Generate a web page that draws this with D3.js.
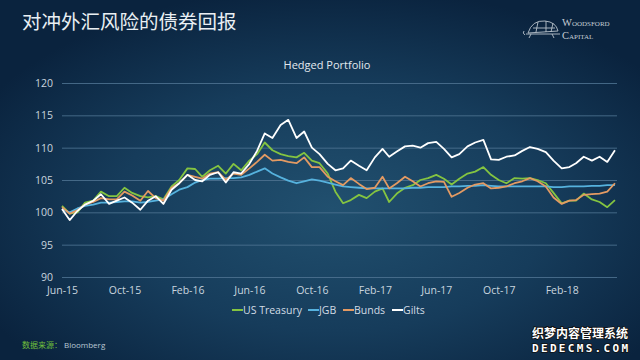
<!DOCTYPE html>
<html>
<head>
<meta charset="utf-8">
<script src="https://cdn.jsdelivr.net/npm/d3@7"></script>
<style>
  html, body { margin: 0; padding: 0; background: #0c2744; }
  svg { display: block; }
</style>
</head>
<body>
<svg id="chart" width="640" height="360"></svg>
<script>
// ---------------- DATA ----------------
const dates = [
  "2015-06-01","2015-06-16","2015-07-01","2015-07-16","2015-08-01","2015-08-16","2015-09-01","2015-09-16",
  "2015-10-01","2015-10-16","2015-11-01","2015-11-16","2015-12-01","2015-12-16","2016-01-01","2016-01-16",
  "2016-02-01","2016-02-16","2016-03-01","2016-03-16","2016-04-01","2016-04-16","2016-05-01","2016-05-16",
  "2016-06-01","2016-06-16","2016-07-01","2016-07-16","2016-08-01","2016-08-16","2016-09-01","2016-09-16",
  "2016-10-01","2016-10-16","2016-11-01","2016-11-16","2016-12-01","2016-12-16","2017-01-01","2017-01-16",
  "2017-02-01","2017-02-16","2017-03-01","2017-03-16","2017-04-01","2017-04-16","2017-05-01","2017-05-16",
  "2017-06-01","2017-06-16","2017-07-01","2017-07-16","2017-08-01","2017-08-16","2017-09-01","2017-09-16",
  "2017-10-01","2017-10-16","2017-11-01","2017-11-16","2017-12-01","2017-12-16","2018-01-01","2018-01-16",
  "2018-02-01","2018-02-16","2018-03-01","2018-03-16","2018-04-01","2018-04-16","2018-05-01","2018-05-16"
];
const usTreasury = [
  101.0, 99.8,100.0,101.5,101.8,103.2,102.5,102.5,103.8,103.0,102.5,102.3,102.5,102.0,104.0,105.0,
  106.8,106.7,105.5,106.5,107.2,106.0,107.5,106.5,108.0,109.0,110.8,109.6,109.0,108.7,108.5,109.2,
  108.0,107.6,106.0,103.2,101.4,101.9,102.7,102.2,103.2,103.7,101.6,102.9,103.8,104.2,105.0,105.3,
  105.8,105.2,104.3,105.2,106.0,106.3,107.0,105.8,105.0,104.5,105.3,105.2,105.3,105.0,104.5,103.0,
  101.4,101.8,101.8,102.9,102.0,101.6,100.8,101.9
];
const jgb = [
  100.5,100.0,100.6,101.0,101.2,101.5,101.5,101.6,101.7,101.7,101.5,101.6,101.8,102.0,102.8,103.5,
  103.9,104.6,105.0,105.2,105.2,105.3,105.3,105.4,105.8,106.3,106.8,106.0,105.4,104.9,104.5,104.8,
  105.1,104.9,104.6,104.3,104.0,103.9,103.8,103.7,103.7,103.7,103.7,103.7,103.7,103.8,103.8,103.9,
  103.9,103.9,104.0,104.0,104.1,104.1,104.2,104.1,104.0,104.0,104.0,104.0,104.0,104.0,104.0,103.9,
  103.9,104.0,104.0,104.0,104.1,104.1,104.2,104.2
];
const bunds = [
  100.8, 99.8,100.3,101.2,101.6,102.2,102.0,102.0,103.2,102.6,101.8,103.3,102.2,101.8,103.8,104.5,
  105.8,105.5,105.2,106.0,106.2,105.0,106.0,105.8,106.8,107.8,108.9,108.0,108.1,107.8,107.6,108.5,
  107.0,107.0,105.5,104.8,104.2,105.3,104.4,103.6,103.8,105.5,103.7,104.5,105.5,104.8,104.0,104.5,
  104.8,104.7,102.4,103.0,103.8,104.3,104.5,103.7,103.8,104.0,104.5,104.8,105.3,104.8,104.0,102.3,
  101.3,101.8,101.9,102.7,102.8,102.9,103.2,104.5
];
const gilts = [
  100.5, 98.8,100.2,101.2,101.8,102.8,101.3,101.8,102.3,101.5,100.4,101.8,102.5,101.3,103.5,104.5,
  105.8,105.0,104.8,105.8,106.2,104.6,106.2,106.0,107.5,109.5,112.2,111.5,113.5,114.3,111.5,112.5,
  110.0,109.0,107.5,106.5,106.8,108.0,107.2,106.5,108.5,109.8,108.6,109.4,110.2,110.3,110.0,110.7,
  110.9,109.8,108.5,109.0,110.2,110.8,111.2,108.2,108.1,108.6,108.8,109.5,110.1,109.8,109.3,108.0,
  106.8,107.0,107.6,108.6,108.0,108.6,107.8,109.6
];
const seriesNames = ["US Treasury", "JGB", "Bunds", "Gilts"];
const seriesColors = ["#84c441", "#56b2de", "#e39a63", "#ffffff"];
const yTicks = [90, 95, 100, 105, 110, 115, 120];
const xTickDates = ["2015-06-01","2015-10-01","2016-02-01","2016-06-01","2016-10-01","2017-02-01","2017-06-01","2017-10-01","2018-02-01"];
const titleText = "对冲外汇风险的债券回报";
const chartTitle = "Hedged Portfolio";
const sourceLabel = "数据来源：";
const sourceName = "Bloomberg";

// ---------------- DRAW ----------------
const svg = d3.select("#chart");
const W = 640, H = 360;
const parse = d3.timeParse("%Y-%m-%d");
const fmt = d3.timeFormat("%b-%y");

const defs = svg.append("defs");
const grad = defs.append("radialGradient").attr("id", "bg")
  .attr("cx", "52%").attr("cy", "58%").attr("r", "62%");
grad.append("stop").attr("offset", "0%").attr("stop-color", "#21506f");
grad.append("stop").attr("offset", "55%").attr("stop-color", "#163c5b");
grad.append("stop").attr("offset", "100%").attr("stop-color", "#0a233e");
svg.append("rect").attr("width", W).attr("height", H).attr("fill", "url(#bg)");

// scales
const x = d3.scaleTime()
  .domain([parse("2015-06-01"), parse("2018-05-20")])
  .range([62, 617]);
const y = d3.scaleLinear().domain([90, 120]).range([277, 83]);

// grid
const grid = svg.append("g")
  .attr("class", "grid")
  .call(d3.axisLeft(y).tickValues(yTicks).tickSize(-(617 - 62)).tickFormat(""))
  .attr("transform", "translate(62,0)");
grid.select(".domain").remove();
grid.selectAll("line").attr("stroke", "#4d7290").attr("stroke-width", 1).attr("opacity", 0.85);

// y axis labels
const yAxis = svg.append("g")
  .attr("transform", "translate(53,0)")
  .call(d3.axisLeft(y).tickValues(yTicks).tickSize(0).tickPadding(0));
yAxis.select(".domain").remove();
yAxis.selectAll("text")
  .attr("fill", "#c9d5df")
  .style("font-family", "'Open Sans', sans-serif")
  .style("font-size", "10.5px");

// x axis labels
const xAxis = svg.append("g")
  .attr("transform", "translate(0,287)")
  .call(d3.axisBottom(x).tickValues(xTickDates.map(parse)).tickFormat(fmt).tickSize(0).tickPadding(0));
xAxis.select(".domain").remove();
xAxis.selectAll("text")
  .attr("fill", "#c9d5df")
  .style("font-family", "'Open Sans', sans-serif")
  .style("font-size", "10.5px");

// lines
const allSeries = [usTreasury, jgb, bunds, gilts];
const line = d3.line()
  .x((d, i) => x(parse(dates[i])))
  .y(d => y(d));
allSeries.forEach((vals, k) => {
  svg.append("path")
    .datum(vals)
    .attr("d", line)
    .attr("fill", "none")
    .attr("stroke", seriesColors[k])
    .attr("stroke-width", 1.8)
    .attr("stroke-linejoin", "round");
});

// titles
svg.append("text")
  .attr("x", 22).attr("y", 29)
  .attr("fill", "#e9eff3")
  .style("font-family", "'Noto Sans CJK SC', sans-serif")
  .style("font-size", "19.5px")
  .text(titleText);

svg.append("text")
  .attr("x", 327).attr("y", 69)
  .attr("text-anchor", "middle")
  .attr("fill", "#e2e9ef")
  .style("font-family", "'Open Sans', sans-serif")
  .style("font-size", "11px")
  .text(chartTitle);

// legend
const legendX = [232, 308, 343, 392];
const legend = svg.append("g");
seriesNames.forEach((name, k) => {
  const g = legend.append("g").attr("transform", `translate(${legendX[k]},310)`);
  g.append("line").attr("x1", 0).attr("x2", 11).attr("y1", 0).attr("y2", 0)
    .attr("stroke", seriesColors[k]).attr("stroke-width", 2);
  g.append("text").attr("x", 11).attr("y", 4)
    .attr("fill", "#d2dce5")
    .style("font-family", "'Open Sans', sans-serif")
    .style("font-size", "10.5px")
    .text(name);
});

// source
const src = svg.append("text").attr("x", 22).attr("y", 348)
  .style("font-family", "'Open Sans', 'Noto Sans CJK SC', sans-serif")
  .style("font-size", "8px");
src.append("tspan").attr("fill", "#6fbf3c").style("font-family", "'Noto Sans CJK SC', sans-serif").text(sourceLabel);
src.append("tspan").attr("fill", "#b9c8d4").attr("dx", 2).text(sourceName);

// logo
const logo = svg.append("g").attr("fill", "none")
  .attr("stroke", "#b9c3cc").attr("stroke-width", 0.9);
logo.append("path").attr("d", "M528,33 Q532,20 545,21 Q556,22 558,31 Z");
logo.append("path").attr("d", "M533,28 L555,28 M538,22 L536,32 M546,21 L546,32 M553,23 L551,32");
logo.append("path").attr("d", "M526,34 L560,34 M531,34 L529,38 M552,34 L554,38 M524,31 Q522,33 525,35");
const logoText = svg.append("g").attr("fill", "#c4ccd4")
  .style("font-family", "'Liberation Serif', 'DejaVu Serif', serif")
  .style("font-variant", "small-caps");
logoText.append("text").attr("x", 562).attr("y", 26).style("font-size", "10.5px").text("Woodsford");
logoText.append("text").attr("x", 562).attr("y", 39).style("font-size", "10.5px").text("Capital");

// watermark
const wm = svg.append("g")
  .style("font-family", "'Noto Sans CJK SC', sans-serif")
  .style("font-weight", "bold")
  .attr("fill", "#ffffff").attr("stroke", "#111111").attr("stroke-width", 1.6)
  .attr("paint-order", "stroke");
wm.append("text").attr("x", 532).attr("y", 338).style("font-size", "12px").attr("textLength", 96).text("织梦内容管理系统");
wm.append("text").attr("x", 532).attr("y", 352).style("font-size", "11px").style("font-family", "'DejaVu Sans Mono', monospace").attr("textLength", 96).text("DEDECMS.COM");
</script>
</body>
</html>
